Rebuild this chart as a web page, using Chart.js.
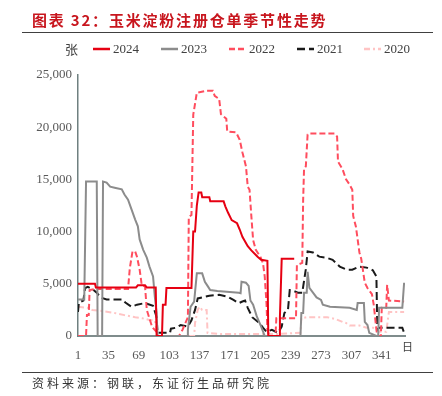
<!DOCTYPE html>
<html>
<head>
<meta charset="utf-8">
<script src="https://cdn.jsdelivr.net/npm/chart.js@4.4.1/dist/chart.umd.min.js"></script>
<style>
  html, body { margin: 0; padding: 0; background: #fff; }
  #wrap { width: 442px; height: 396px; }
</style>
</head>
<body>
<div id="wrap"><canvas id="chart" width="442" height="396"></canvas></div>
<script>
const yearLabels = ["2024", "2023", "2022", "2021", "2020"];
const dayTicks = [1, 35, 69, 103, 137, 171, 205, 239, 273, 307, 341];
const valueTicks = [0, 5000, 10000, 15000, 20000, 25000];

// [day of year, registered warehouse receipts]
const stock2024 = [[1, 5000], [20, 5000], [21, 4650], [66, 4650], [68, 4850], [76, 4850], [78, 4650], [88, 4650],
  [89, 0], [95, 0], [96, 3000], [99, 3000], [100, 4600], [128, 4600], [130, 10000], [132, 10000], [134, 12500],
  [136, 13750], [139, 13750], [140, 13300], [148, 13300], [149, 12900], [164, 12900], [166, 12400], [169, 11800],
  [173, 11100], [179, 10800], [182, 10200], [185, 9500], [191, 8600], [195, 8200], [202, 7600], [206, 7300],
  [213, 7200], [214, 0], [226, 0], [227, 1800], [229, 7400], [243, 7400]];

const stock2023 = [[1, 3500], [8, 3500], [10, 14800], [22, 14800], [23, 0], [28, 0], [29, 14800], [33, 14700],
  [37, 14300], [42, 14200], [50, 14050], [53, 13550], [57, 13050], [61, 12100], [65, 11150], [68, 10500],
  [70, 9250], [74, 8250], [78, 7500], [81, 6650], [85, 5700], [87, 3750], [89, 2200], [90, 0], [123, 0],
  [124, 600], [127, 2800], [131, 3300], [134, 6000], [140, 6000], [143, 5200], [146, 4800], [149, 4400],
  [157, 4300], [181, 4150], [183, 4100], [184, 5200], [189, 5100], [192, 4800], [194, 3400], [197, 3000],
  [201, 1900], [206, 900], [210, 0], [250, 0], [251, 2200], [253, 2200], [254, 4150], [257, 4150], [258, 6150],
  [260, 4600], [264, 4150], [268, 3700], [273, 3450], [275, 3000], [283, 2800], [305, 2700], [313, 2500],
  [314, 3150], [321, 3150], [322, 1350], [325, 1050], [327, 300], [335, 0], [337, 0], [338, 2700], [364, 2700],
  [366, 5100]];

const stock2022 = [[1, 0], [10, 0], [11, 2000], [13, 2000], [14, 4400], [20, 4500], [57, 4500], [59, 6500],
  [62, 8100], [65, 8100], [67, 7600], [70, 6350], [72, 5100], [73, 4800], [76, 4800], [78, 2500], [84, 850],
  [90, 300], [91, 0], [114, 0], [118, 600], [124, 1800], [125, 11400], [128, 11600], [130, 21200], [134, 23300],
  [145, 23500], [152, 23500], [154, 23000], [159, 22700], [161, 21250], [167, 20800], [168, 19600], [178, 19500],
  [182, 18800], [185, 17600], [189, 16250], [191, 14300], [193, 14000], [195, 11500], [197, 9200], [200, 8250],
  [205, 7600], [208, 7000], [210, 5700], [212, 3100], [213, 600], [215, 0], [222, 0], [223, 1700], [245, 1700],
  [246, 6800], [252, 7000], [253, 13000], [254, 16000], [256, 16250], [258, 19300], [260, 19400], [288, 19400],
  [291, 19100], [292, 16700], [297, 16000], [301, 15000], [305, 14500], [308, 14000], [309, 11500], [312, 10500],
  [316, 8000], [318, 7400], [322, 5100], [325, 4600], [330, 4000], [332, 3000], [335, 600], [336, 0], [340, 0],
  [341, 2700], [346, 2700], [347, 4900], [349, 3400], [366, 3300]];

const stock2021 = [[1, 2300], [2, 3200], [7, 3400], [9, 4600], [12, 4700], [17, 4500], [22, 4150], [26, 3700],
  [33, 3500], [51, 3500], [54, 3200], [61, 2800], [67, 3000], [76, 3150], [85, 2900], [89, 1800], [90, 300],
  [104, 300], [105, 700], [111, 800], [116, 1050], [124, 900], [128, 1500], [132, 2500], [135, 3600],
  [140, 3700], [148, 3850], [159, 3950], [169, 3750], [175, 3450], [181, 3150], [185, 3300], [188, 3400],
  [191, 2700], [196, 1800], [204, 1250], [208, 800], [212, 400], [218, 600], [225, 300], [229, 900], [232, 2200],
  [236, 2500], [238, 4400], [240, 4400], [247, 4150], [252, 4150], [256, 6400], [258, 8100], [264, 8000],
  [271, 7600], [279, 7500], [286, 7300], [294, 6650], [302, 6350], [308, 6350], [316, 6650], [324, 6550],
  [331, 6300], [335, 5700], [336, 600], [338, 800], [364, 800], [366, 300]];

const stock2020 = [[1, 2800], [12, 2700], [17, 2500], [28, 2400], [42, 2200], [53, 2000], [65, 1800], [73, 1700],
  [80, 1550], [87, 1500], [89, 300], [90, 0], [131, 0], [132, 1250], [135, 2500], [137, 2800], [140, 2500],
  [145, 2500], [146, 300], [160, 200], [225, 200], [250, 300], [251, 1700], [257, 1800], [280, 1800], [290, 1600],
  [297, 1350], [301, 1250], [305, 1000], [316, 1000], [324, 800], [331, 800], [335, 700], [338, 400], [346, 400],
  [349, 2300], [366, 2300]];

const toPoints = (arr) => arr.map(([d, v]) => ({ x: d, y: v }));

const serif = "'Liberation Serif', 'Times New Roman', serif";
const cjk = "'Noto Sans CJK SC', 'Noto Sans', sans-serif";

// title, rules, legend, unit labels, source
const decor = {
  id: "decor",
  afterDraw(chart) {
    const ctx = chart.ctx;
    ctx.save();
    ctx.textBaseline = "middle";

    ctx.fillStyle = "#C8161E";
    ctx.font = "bold 15px " + cjk;
    ctx.letterSpacing = "1.8px";
    ctx.fillText("图表 32：玉米淀粉注册仓单季节性走势", 32, 20);

    ctx.strokeStyle = "#404040";
    ctx.lineWidth = 1;
    ctx.beginPath();
    ctx.moveTo(22, 32.5); ctx.lineTo(433, 32.5);
    ctx.moveTo(22, 372.5); ctx.lineTo(433, 372.5);
    ctx.stroke();

    ctx.fillStyle = "#333";
    ctx.font = "12px " + cjk;
    ctx.letterSpacing = "3px";
    ctx.fillText("资料来源：钢联，东证衍生品研究院", 32, 383);

    ctx.letterSpacing = "0px";
    ctx.fillStyle = "#404040";
    ctx.font = "13px " + cjk;
    ctx.fillText("张", 65, 49);
    ctx.font = "11px " + cjk;
    ctx.fillText("日", 402, 347);

    const starts = [93, 161, 229, 297, 364];
    chart.data.datasets.forEach((ds, i) => {
      const x = starts[i];
      ctx.strokeStyle = ds.borderColor;
      ctx.lineWidth = 2.5;
      ctx.setLineDash(ds.borderDash || []);
      ctx.beginPath();
      ctx.moveTo(x, 49); ctx.lineTo(x + 17, 49);
      ctx.stroke();
      ctx.setLineDash([]);
      ctx.fillStyle = "#404040";
      ctx.font = "13px " + serif;
      ctx.fillText(ds.label, x + 20, 50);
    });
    ctx.restore();
  }
};

const styles = [
  { color: "#E60012", dash: [] },
  { color: "#8C8C8C", dash: [] },
  { color: "#FF4D5E", dash: [6, 3] },
  { color: "#1A1A1A", dash: [8, 4] },
  { color: "#FFC4C4", dash: [6, 3, 2, 3] }
];
const series = [stock2024, stock2023, stock2022, stock2021, stock2020];

new Chart(document.getElementById("chart"), {
  type: "line",
  data: {
    datasets: series.map((s, i) => ({
      label: yearLabels[i],
      data: toPoints(s),
      borderColor: styles[i].color,
      borderDash: styles[i].dash,
      borderWidth: 2,
      pointRadius: 0,
      tension: 0,
      fill: false
    }))
  },
  options: {
    responsive: false,
    animation: false,
    devicePixelRatio: 1,
    layout: { padding: { top: 75, right: 37, bottom: 30, left: 0 } },
    plugins: { legend: { display: false }, tooltip: { enabled: false } },
    scales: {
      x: {
        type: "linear",
        min: 1,
        max: 367,
        afterBuildTicks: (scale) => { scale.ticks = dayTicks.map((v) => ({ value: v })); },
        afterFit: (scale) => { scale.height = 30; },
        grid: { display: false, drawTicks: false },
        border: { display: true, color: "#7F8C8C", width: 2 },
        ticks: { color: "#595959", font: { family: serif, size: 13 }, padding: 12, maxRotation: 0, autoSkip: false }
      },
      y: {
        min: 0,
        max: 25000,
        afterBuildTicks: (scale) => { scale.ticks = valueTicks.map((v) => ({ value: v })); },
        afterFit: (scale) => { scale.width = 78; },
        grid: { display: false, drawTicks: false },
        border: { display: true, color: "#6F8080", width: 1.5 },
        ticks: {
          color: "#595959",
          font: { family: serif, size: 13 },
          padding: 6,
          callback: (v) => v.toLocaleString("en-US")
        }
      }
    }
  },
  plugins: [decor]
});
</script>
</body>
</html>
